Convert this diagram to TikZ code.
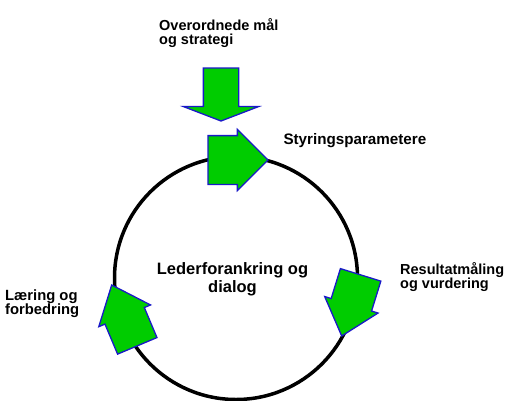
\documentclass[tikz,border=0pt]{standalone}
\usepackage{fontspec}
\setmainfont{Liberation Sans}
\usetikzlibrary{shapes.arrows}
\definecolor{arrowgreen}{RGB}{0,204,0}
\definecolor{arrowblue}{RGB}{25,25,200}
\tikzset{
  cyclearrow/.style={single arrow, draw=arrowblue, fill=arrowgreen, line width=1.3pt,
    inner xsep=0pt, outer sep=0pt, anchor=tip, single arrow head indent=0pt},
  txt/.style={font=\fontsize{14.5}{14.5}\selectfont\bfseries, align=left, inner sep=0pt, anchor=north west}
}

\begin{document}
\begin{tikzpicture}[x=1pt, y=1pt]
    \useasboundingbox (0,0) rectangle (513,400);
    \draw[line width=3.5pt] (236,122) circle (121.5);
    \node[cyclearrow, minimum height=53pt, inner ysep=17pt, single arrow head extend=20pt, single arrow tip angle=138, rotate=-90] (mal) at (221,279) {};
    \node[cyclearrow, minimum height=60pt, inner ysep=23.75pt, single arrow head extend=6.25pt, single arrow tip angle=90, rotate=0] (styr) at (268,240) {};
    \node[cyclearrow, minimum height=64pt, inner ysep=20.5pt, single arrow head extend=6.75pt, single arrow tip angle=81, rotate=252.8] (res) at (341.7,64) {};
    \node[cyclearrow, minimum height=66pt, inner ysep=20.7pt, single arrow head extend=6.7pt, single arrow tip angle=80, rotate=112.8] (laer) at (111.7,115) {};
    \node[txt] (maltxt) at (159,381.7) {Overordnede mål\\og strategi};
    \node[txt, font=\fontsize{15.2}{15}\selectfont\bfseries] (styrtxt) at (283.3,266.5) {Styringsparametere};
    \node[txt] (restxt) at (400,138) {Resultatmåling\\og vurdering};
    \node[txt, font=\fontsize{14.8}{14.5}\selectfont\bfseries] (laertxt) at (5,110.6) {Læring og\\forbedring};
    \node[txt, font=\fontsize{16.5}{17.7}\selectfont\bfseries, align=center, anchor=north] (ledtxt) at (232.5,137.7) {Lederforankring og\\dialog};
\end{tikzpicture}
\end{document}
